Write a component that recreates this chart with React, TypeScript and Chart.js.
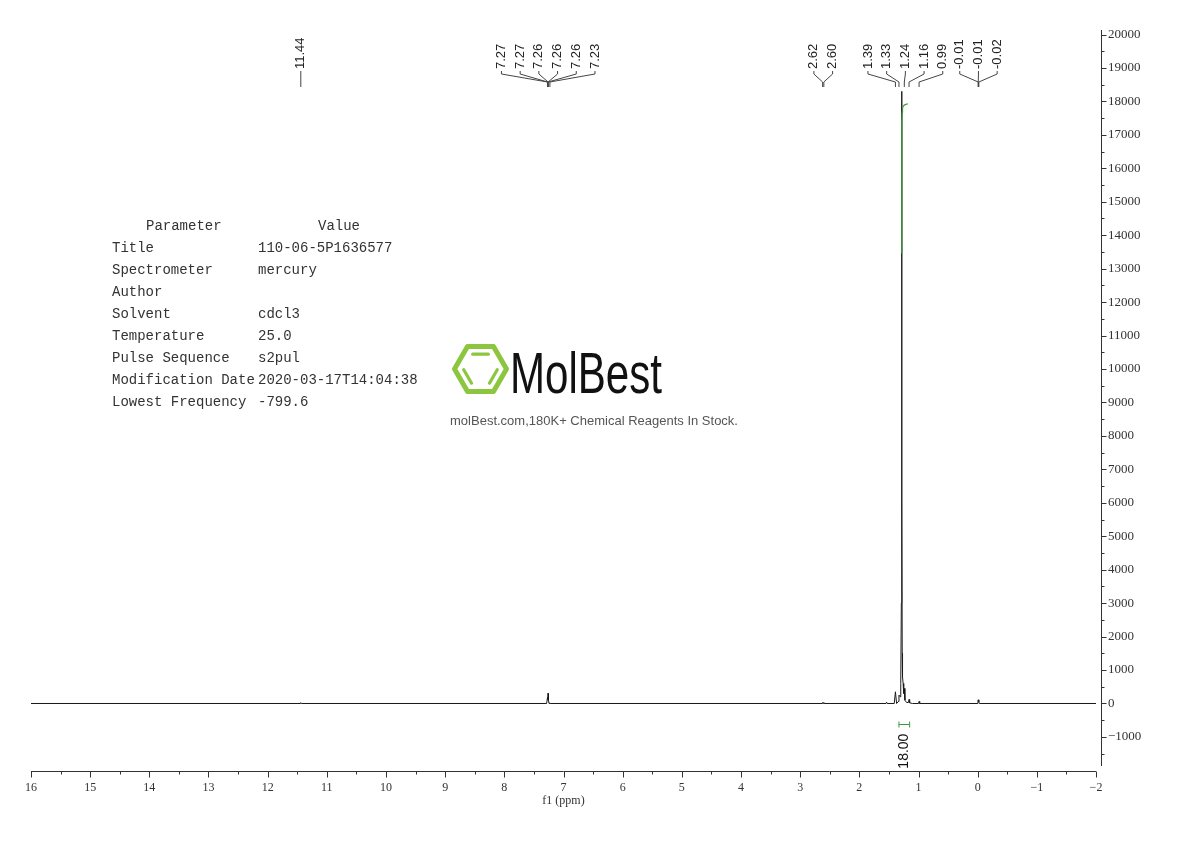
import React, { useEffect, useRef } from 'react';
import { Chart, registerables } from 'chart.js';

Chart.register(...registerables);

// 1H NMR trace: chemical shift (ppm) and intensity
const tracePpm = [
  16, 11.45, 11.44, 11.43,
  7.285, 7.27, 7.265, 7.26, 7.255, 7.245, 7.235, 7.23, 7.225,
  2.625, 2.62, 2.61, 2.6, 2.595,
  1.55, 1.54, 1.53, 1.41, 1.39, 1.37, 1.34, 1.33, 1.31, 1.3, 1.29, 1.285, 1.28, 1.275, 1.27, 1.26, 1.25, 1.24, 1.23, 1.2, 1.17, 1.16, 1.15, 1.1,
  1.0, 0.99, 0.98,
  0.01, -0.005, -0.01, -0.02, -0.03,
  -2,
];
const traceIntensity = [
  0, 0, 25, 0,
  0, 180, 120, 310, 100, 0, 0, 20, 0,
  0, 30, 5, 30, 0,
  0, 40, 0, 0, 350, 0, 60, 250, 200, 600, 3000, 18300, 6000, 1500, 800, 600, 300, 450, 100, 30, 30, 120, 20, 0,
  0, 60, 0,
  0, 90, 110, 40, 0,
  0,
];

// Integral curve over the 1.28 ppm singlet
const integralPpm = [1.295, 1.287, 1.284, 1.282, 1.28, 1.276, 1.27, 1.26, 1.24, 1.21, 1.18];
const integralCurve = [13470, 13700, 15500, 16800, 17400, 17680, 17790, 17850, 17890, 17915, 17925];
const integralRange = [1.33, 1.15];
const integralValue = '18.00';

// Peak picking labels, one list per multiplet
const peaksGroupA = ['11.44'];
const peaksGroupB = ['7.27', '7.27', '7.26', '7.26', '7.26', '7.23'];
const peaksGroupC = ['2.62', '2.60'];
const peaksGroupD = ['1.39', '1.33', '1.24', '1.16', '0.99'];
const peaksGroupE = ['-0.01', '-0.01', '-0.02'];

// Axis ticks
const xTickValues = [16, 15, 14, 13, 12, 11, 10, 9, 8, 7, 6, 5, 4, 3, 2, 1, 0, -1, -2];
const yTickValues = [-1000, 0, 1000, 2000, 3000, 4000, 5000, 6000, 7000, 8000, 9000, 10000,
  11000, 12000, 13000, 14000, 15000, 16000, 17000, 18000, 19000, 20000];
const yAxisFloor = -1870;

// Acquisition parameters
const paramNames = ['Title', 'Spectrometer', 'Author', 'Solvent', 'Temperature', 'Pulse Sequence', 'Modification Date', 'Lowest Frequency'];
const paramValues = ['110-06-5P1636577', 'mercury', '', 'cdcl3', '25.0', 's2pul', '2020-03-17T14:04:38', '-799.6'];

const INK = '#333333';
const GREEN = '#3a9a3a';

const fmtMinus = (v: number) => (v < 0 ? '\u2212' + Math.abs(v) : String(v));

const annotations = {
  id: 'nmrAnnotations',
  afterDraw(chart: any) {
    const { ctx, chartArea } = chart;
    const x = chart.scales.x;
    const y = chart.scales.y;
    ctx.save();

    // x axis line with major / minor ticks
    ctx.strokeStyle = INK;
    ctx.lineWidth = 1;
    const axY = Math.round(chartArea.bottom) + 0.5;
    ctx.beginPath();
    ctx.moveTo(x.getPixelForValue(16), axY);
    ctx.lineTo(x.getPixelForValue(-2), axY);
    for (let v = -2; v <= 16; v += 0.5) {
      const px = Math.round(x.getPixelForValue(v)) + 0.5;
      const len = Number.isInteger(v) ? 6 : 3;
      ctx.moveTo(px, axY);
      ctx.lineTo(px, axY + len);
    }
    ctx.stroke();

    // y axis line with major / minor ticks
    const axX = Math.round(chartArea.right) + 5.5;
    ctx.beginPath();
    ctx.moveTo(axX, chartArea.top);
    ctx.lineTo(axX, y.getPixelForValue(yAxisFloor));
    for (let v = -1500; v <= 20000; v += 500) {
      const py = Math.round(y.getPixelForValue(v)) + 0.5;
      const len = v % 1000 === 0 ? 5 : 3;
      ctx.moveTo(axX, py);
      ctx.lineTo(axX + len, py);
    }
    ctx.stroke();

    // peak labels with connectors
    const groups = [peaksGroupA, peaksGroupB, peaksGroupC, peaksGroupD, peaksGroupE];
    ctx.font = '13px "Liberation Sans", Arial, sans-serif';
    ctx.fillStyle = '#222';
    ctx.strokeStyle = '#444';
    for (const g of groups) {
      const pxs = g.map((l) => x.getPixelForValue(parseFloat(l)));
      const center = pxs.reduce((a, b) => a + b, 0) / pxs.length;
      g.forEach((label, i) => {
        const lx = center + (i - (g.length - 1) / 2) * 18.7;
        const peakX = pxs[i];
        ctx.save();
        ctx.translate(lx, 69);
        ctx.rotate(-Math.PI / 2);
        ctx.textAlign = 'left';
        ctx.textBaseline = 'middle';
        ctx.fillText(label, 0, 0);
        ctx.restore();
        ctx.beginPath();
        ctx.moveTo(lx, 71);
        ctx.lineTo(lx, 74);
        ctx.lineTo(peakX, 82);
        ctx.lineTo(peakX, 87);
        ctx.stroke();
      });
    }

    // integral bracket and value
    const ix0 = x.getPixelForValue(integralRange[0]);
    const ix1 = x.getPixelForValue(integralRange[1]);
    const iy = Math.round(y.getPixelForValue(-600)) + 0.5;
    ctx.strokeStyle = GREEN;
    ctx.beginPath();
    ctx.moveTo(ix0, iy);
    ctx.lineTo(ix1, iy);
    ctx.moveTo(ix0, iy - 3);
    ctx.lineTo(ix0, iy + 3);
    ctx.moveTo(ix1, iy - 3);
    ctx.lineTo(ix1, iy + 3);
    ctx.stroke();
    ctx.save();
    ctx.translate((ix0 + ix1) / 2, y.getPixelForValue(-900));
    ctx.rotate(-Math.PI / 2);
    ctx.font = '14px "Liberation Sans", Arial, sans-serif';
    ctx.fillStyle = '#111';
    ctx.textAlign = 'right';
    ctx.textBaseline = 'middle';
    ctx.fillText(integralValue, 0, 0);
    ctx.restore();

    // parameter table
    ctx.font = '14px "Liberation Mono", monospace';
    ctx.fillStyle = INK;
    ctx.textBaseline = 'middle';
    ctx.textAlign = 'left';
    ctx.fillText('Parameter', 146, 226);
    ctx.fillText('Value', 318, 226);
    paramNames.forEach((name, i) => {
      const ry = 248 + i * 22;
      ctx.fillText(name, 112, ry);
      ctx.fillText(paramValues[i], 258, ry);
    });

    // MolBest mark
    const cx = 480.5;
    const cy = 369;
    const R = 26;
    const verts = [0, 60, 120, 180, 240, 300].map((a) => {
      const r = (a * Math.PI) / 180;
      return [cx + R * Math.cos(r), cy + R * Math.sin(r)];
    });
    ctx.strokeStyle = '#8cc63f';
    ctx.lineWidth = 5;
    ctx.lineJoin = 'round';
    ctx.beginPath();
    verts.forEach((v, i) => (i === 0 ? ctx.moveTo(v[0], v[1]) : ctx.lineTo(v[0], v[1])));
    ctx.closePath();
    ctx.stroke();
    ctx.lineWidth = 3.2;
    ctx.lineCap = 'round';
    for (const [a, b] of [[4, 5], [2, 3], [0, 1]]) {
      const p = verts[a];
      const q = verts[b];
      const mx = (p[0] + q[0]) / 2;
      const my = (p[1] + q[1]) / 2;
      const k = 0.66;
      const sx = cx + (mx - cx) * k;
      const sy = cy + (my - cy) * k;
      const dx = (q[0] - p[0]) * 0.3;
      const dy = (q[1] - p[1]) * 0.3;
      ctx.beginPath();
      ctx.moveTo(sx - dx, sy - dy);
      ctx.lineTo(sx + dx, sy + dy);
      ctx.stroke();
    }
    ctx.lineCap = 'butt';
    ctx.lineWidth = 1;

    ctx.fillStyle = '#111';
    ctx.font = '58px "Liberation Sans", Arial, sans-serif';
    ctx.textAlign = 'left';
    ctx.textBaseline = 'alphabetic';
    const w = ctx.measureText('MolBest').width;
    ctx.save();
    ctx.translate(510, 393);
    ctx.scale(152 / w, 1);
    ctx.fillText('MolBest', 0, 0);
    ctx.restore();

    ctx.font = '13px "Liberation Sans", Arial, sans-serif';
    ctx.fillStyle = '#555';
    ctx.textAlign = 'center';
    ctx.textBaseline = 'middle';
    ctx.fillText('molBest.com,180K+ Chemical Reagents In Stock.', 594, 421);

    ctx.restore();
  },
};

export default function App() {
  const ref = useRef<HTMLCanvasElement>(null);

  useEffect(() => {
    const spectrum = tracePpm.map((p, i) => ({ x: p, y: traceIntensity[i] }));
    const integral = integralPpm.map((p, i) => ({ x: p, y: integralCurve[i] }));
    const chart = new Chart(ref.current as HTMLCanvasElement, {
      type: 'line',
      data: {
        datasets: [
          {
            data: integral,
            borderColor: GREEN,
            borderWidth: 1.2,
            pointRadius: 0,
            tension: 0,
            order: 0,
          },
          {
            data: spectrum,
            borderColor: '#1a1a1a',
            borderWidth: 1,
            pointRadius: 0,
            tension: 0,
            order: 1,
          },
        ],
      },
      options: {
        responsive: false,
        animation: false,
        devicePixelRatio: 1,
        layout: { padding: { left: 31, top: 30, right: 0, bottom: 32 } },
        plugins: { legend: { display: false }, tooltip: { enabled: false } },
        scales: {
          x: {
            type: 'linear',
            reverse: true,
            min: -2,
            max: 16,
            grid: { display: false, drawTicks: false },
            border: { display: false },
            afterBuildTicks: (scale: any) => {
              scale.ticks = xTickValues.map((v) => ({ value: v }));
            },
            afterFit: (scale: any) => {
              scale.height = 38;
            },
            ticks: {
              autoSkip: false,
              maxRotation: 0,
              padding: 10,
              color: INK,
              font: { family: '"Liberation Serif", serif', size: 12 },
              callback: (v: any) => fmtMinus(Number(v)),
            },
            title: {
              display: true,
              text: 'f1 (ppm)',
              color: INK,
              font: { family: '"Liberation Serif", serif', size: 12 },
              padding: { top: 0, bottom: 1 },
            },
          },
          y: {
            type: 'linear',
            position: 'right',
            min: -2018,
            max: 20135,
            grid: { display: false, drawTicks: false },
            border: { display: false },
            afterBuildTicks: (scale: any) => {
              scale.ticks = yTickValues.map((v) => ({ value: v }));
            },
            afterFit: (scale: any) => {
              scale.width = 94;
            },
            ticks: {
              autoSkip: false,
              padding: 12,
              color: INK,
              font: { family: '"Liberation Serif", serif', size: 13 },
              callback: (v: any) => fmtMinus(Number(v)),
            },
          },
        },
      },
      plugins: [annotations],
    } as any);
    return () => chart.destroy();
  }, []);

  return (
    <div style={{ position: 'absolute', left: 0, top: 0, width: 1190, height: 841, background: '#fff' }}>
      <canvas ref={ref} width={1190} height={841} style={{ display: 'block', width: 1190, height: 841 }} />
    </div>
  );
}
